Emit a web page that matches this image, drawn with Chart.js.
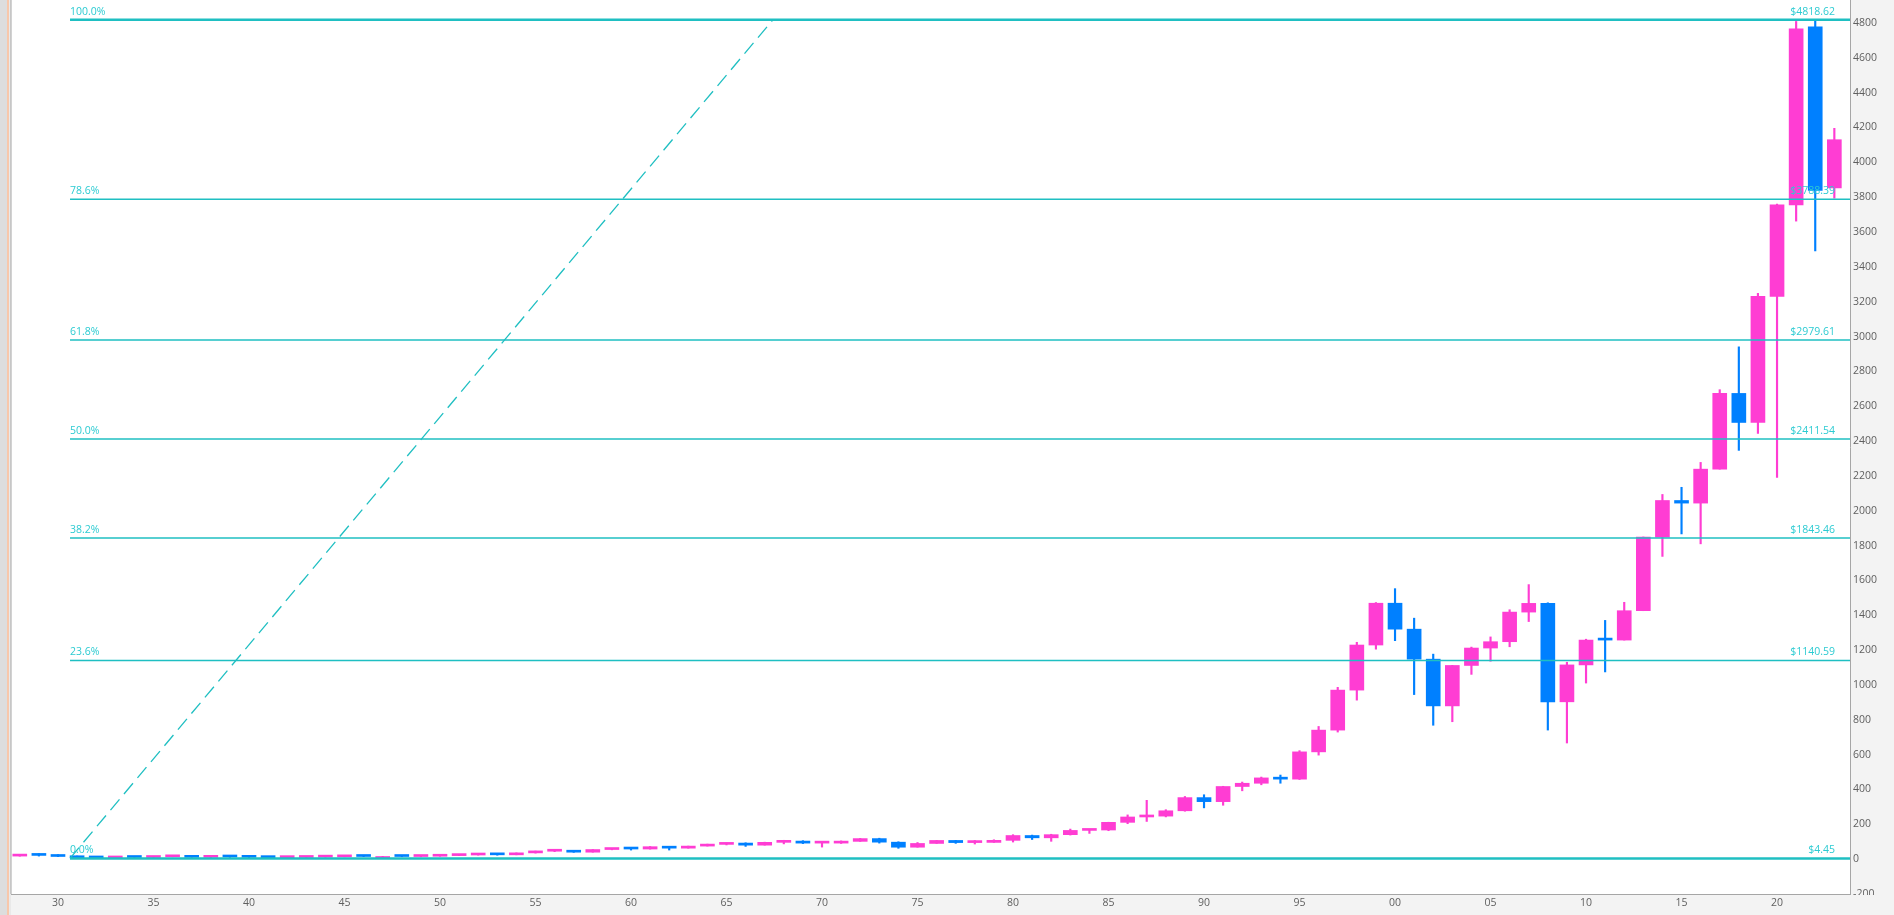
<!DOCTYPE html>
<html lang="en">
<head>
    <meta charset="UTF-8">
    <title>S&amp;P 500 Yearly Candles - Fibonacci Retracement</title>
    <script src="https://cdnjs.cloudflare.com/ajax/libs/chart.js/4.4.1/chart.umd.min.js"></script>
    <style>
        html, body {
            margin: 0;
            padding: 0;
            background: #f3f3f3;
            overflow: hidden;
        }

        .chart-wrap {
            position: relative;
            width: 1894px;
            height: 915px;
        }
    </style>
</head>
<body>
    <div class="chart-wrap">
        <canvas id="candleChart"></canvas>
    </div>

    <script>
        // Yearly candles, 1928 - 2023
        const years = [
            1928, 1929, 1930, 1931, 1932, 1933, 1934, 1935, 1936, 1937, 1938, 1939,
            1940, 1941, 1942, 1943, 1944, 1945, 1946, 1947, 1948, 1949,
            1950, 1951, 1952, 1953, 1954, 1955, 1956, 1957, 1958, 1959,
            1960, 1961, 1962, 1963, 1964, 1965, 1966, 1967, 1968, 1969,
            1970, 1971, 1972, 1973, 1974, 1975, 1976, 1977, 1978, 1979,
            1980, 1981, 1982, 1983, 1984, 1985, 1986, 1987, 1988, 1989,
            1990, 1991, 1992, 1993, 1994, 1995, 1996, 1997, 1998, 1999,
            2000, 2001, 2002, 2003, 2004, 2005, 2006, 2007, 2008, 2009,
            2010, 2011, 2012, 2013, 2014, 2015, 2016, 2017, 2018, 2019,
            2020, 2021, 2022, 2023
        ];

        const opens = [
            17.66, 24.35, 21.45, 15.34, 8.12, 6.89, 10.10, 9.50, 13.43, 17.18, 10.55, 13.21,
            12.49, 10.58, 8.69, 9.77, 11.67, 13.28, 17.36, 15.30, 15.30, 15.20,
            16.76, 20.41, 23.77, 26.57, 24.81, 35.98, 45.48, 46.67, 39.99, 55.21,
            59.89, 58.11, 71.55, 63.10, 75.02, 84.75, 92.43, 80.33, 96.47, 103.86,
            92.06, 92.15, 102.09, 118.05, 97.55, 68.56, 90.19, 107.46, 95.10, 96.11,
            107.94, 135.76, 122.55, 140.64, 164.93, 167.24, 211.28, 242.17, 247.08, 277.72,
            353.40, 330.22, 417.09, 435.71, 466.45, 459.27, 615.93, 740.74, 970.43, 1229.23,
            1469.25, 1320.28, 1148.08, 879.82, 1111.92, 1211.92, 1248.29, 1418.30, 1468.36, 903.25,
            1115.10, 1257.62, 1257.60, 1426.19, 1848.36, 2058.90, 2043.94, 2238.83, 2673.61, 2506.85,
            3230.78, 3756.07, 4778.14, 3853.29
        ];

        const highs = [
            24.35, 31.86, 25.92, 18.17, 9.31, 12.20, 11.82, 13.46, 17.69, 18.68, 13.79, 13.23,
            12.77, 10.86, 9.77, 12.64, 13.29, 17.68, 19.25, 16.20, 17.06, 16.79,
            20.43, 23.85, 26.59, 26.66, 35.98, 46.41, 49.74, 49.13, 55.21, 60.71,
            60.39, 72.64, 71.55, 75.02, 86.28, 92.63, 94.06, 97.59, 108.37, 106.16,
            93.46, 104.77, 119.12, 120.24, 99.80, 95.61, 107.83, 107.97, 106.99, 111.27,
            140.52, 138.12, 143.02, 172.65, 170.41, 212.02, 254.00, 337.89, 283.95, 359.80,
            369.78, 418.32, 442.65, 471.29, 482.85, 622.88, 761.75, 986.25, 1244.93, 1473.10,
            1552.87, 1383.37, 1176.97, 1112.56, 1217.33, 1275.80, 1431.81, 1576.09, 1471.77, 1130.38,
            1262.60, 1370.58, 1474.51, 1849.44, 2093.55, 2134.72, 2277.53, 2694.97, 2940.91, 3247.93,
            3760.20, 4808.93, 4818.62, 4195.44
        ];

        const lows = [
            16.95, 17.66, 14.44, 7.72, 4.45, 5.53, 8.36, 8.06, 13.40, 10.17, 8.50, 10.18,
            8.99, 8.37, 7.47, 9.77, 11.56, 13.21, 14.12, 13.71, 13.84, 13.55,
            16.65, 20.41, 23.09, 22.71, 24.80, 34.58, 43.11, 38.98, 39.99, 53.58,
            52.20, 57.57, 52.32, 62.69, 75.02, 81.60, 73.20, 80.33, 87.72, 89.20,
            69.29, 90.16, 101.67, 92.16, 62.28, 68.56, 90.19, 90.71, 86.90, 96.11,
            98.22, 112.77, 102.42, 138.34, 147.82, 163.36, 203.49, 216.46, 242.63, 275.31,
            294.51, 309.35, 392.41, 426.88, 435.86, 457.20, 597.29, 729.55, 912.83, 1205.46,
            1254.07, 944.75, 768.63, 788.90, 1060.72, 1136.15, 1219.29, 1363.98, 741.02, 666.79,
            1010.91, 1074.77, 1257.60, 1426.19, 1737.92, 1867.01, 1810.10, 2238.83, 2346.58, 2443.96,
            2191.86, 3662.71, 3491.58, 3794.33
        ];

        const closes = [
            24.35, 21.45, 15.34, 8.12, 6.89, 10.10, 9.50, 13.43, 17.18, 10.55, 13.21, 12.49,
            10.58, 8.69, 9.77, 11.67, 13.28, 17.36, 15.30, 15.30, 15.20, 16.76,
            20.41, 23.77, 26.57, 24.81, 35.98, 45.48, 46.67, 39.99, 55.21, 59.89,
            58.11, 71.55, 63.10, 75.02, 84.75, 92.43, 80.33, 96.47, 103.86, 92.06,
            92.15, 102.09, 118.05, 97.55, 68.56, 90.19, 107.46, 95.10, 96.11, 107.94,
            135.76, 122.55, 140.64, 164.93, 167.24, 211.28, 242.17, 247.08, 277.72, 353.40,
            330.22, 417.09, 435.71, 466.45, 459.27, 615.93, 740.74, 970.43, 1229.23, 1469.25,
            1320.28, 1148.08, 879.82, 1111.92, 1211.92, 1248.29, 1418.30, 1468.36, 903.25, 1115.10,
            1257.64, 1257.60, 1426.19, 1848.36, 2058.90, 2043.94, 2238.83, 2673.61, 2506.85, 3230.78,
            3756.07, 4766.18, 3839.50, 4130.00
        ];

        // Fibonacci retracement levels
        const fibLabels = ['0.0%', '23.6%', '38.2%', '50.0%', '61.8%', '78.6%', '100.0%'];
        const fibPrices = [4.45, 1140.59, 1843.46, 2411.54, 2979.61, 3788.39, 4818.62];
        const fibStart = 1930.63;

        // diagonal trend line of the tool
        const trendX = [1930.63, 1967.43];
        const trendY = [4.45, 4818.62];

        // tick labels
        const xTicks = [1930, 1935, 1940, 1945, 1950, 1955, 1960, 1965, 1970, 1975, 1980, 1985,
            1990, 1995, 2000, 2005, 2010, 2015, 2020];
        const yTicks = [-200, 0, 200, 400, 600, 800, 1000, 1200, 1400, 1600, 1800, 2000, 2200,
            2400, 2600, 2800, 3000, 3200, 3400, 3600, 3800, 4000, 4200, 4400, 4600, 4800];

        const UP = '#ff3dd3';
        const DOWN = '#0080ff';
        const FIB = '#1fbfc2';
        const FIB_TEXT = '#2ccbd2';
        const AXIS_BG = '#f3f3f3';

        const candleColors = years.map((y, i) => closes[i] >= opens[i] ? UP : DOWN);

        // axis backgrounds, left strip, clipping of the lowest price label
        const framePlugin = {
            id: 'frame',
            beforeDraw(chart) {
                const { ctx, chartArea: a, width, height } = chart;
                ctx.save();
                ctx.fillStyle = AXIS_BG;
                ctx.fillRect(0, 0, width, height);
                ctx.fillStyle = '#ffffff';
                ctx.fillRect(a.left, a.top, a.right - a.left, a.bottom - a.top);
                ctx.fillStyle = '#dddddd';
                ctx.fillRect(0, 0, 7, height);
                ctx.fillStyle = '#f8c7aa';
                ctx.fillRect(7, 0, 2, height);
                ctx.fillStyle = '#e9e9e9';
                ctx.fillRect(9, 0, 2, height);
                ctx.fillStyle = '#a6a6a6';
                ctx.fillRect(a.left - 0.5, a.top, 1, a.bottom - a.top);
                ctx.restore();
            },
            afterDraw(chart) {
                const { ctx, chartArea: a, width, height } = chart;
                ctx.save();
                ctx.fillStyle = AXIS_BG;
                ctx.fillRect(a.right + 1, a.bottom + 1, width - a.right, height - a.bottom);
                ctx.restore();
            }
        };

        // text labels of the retracement levels
        const fibLabelPlugin = {
            id: 'fibLabels',
            afterDatasetsDraw(chart) {
                const { ctx, chartArea: a, scales } = chart;
                ctx.save();
                ctx.font = "10.5px 'Open Sans', 'Noto Sans', sans-serif";
                ctx.fillStyle = FIB_TEXT;
                ctx.textBaseline = 'alphabetic';
                fibPrices.forEach((p, i) => {
                    const y = scales.y.getPixelForValue(p) - 5;
                    ctx.textAlign = 'left';
                    ctx.fillText(fibLabels[i], scales.x.getPixelForValue(fibStart), y);
                    ctx.textAlign = 'right';
                    ctx.fillText('$' + p.toFixed(2), a.right - 15, y);
                });
                ctx.restore();
            }
        };

        const fibDatasets = fibPrices.map((p, i) => ({
            type: 'line',
            data: [{ x: fibStart, y: p }, { x: 2030, y: p }],
            borderColor: FIB,
            borderWidth: (i === 0 || i === fibPrices.length - 1) ? 2.5 : 1.5,
            pointRadius: 0,
            order: 0
        }));

        const ctx = document.getElementById('candleChart').getContext('2d');
        new Chart(ctx, {
            type: 'bar',
            data: {
                datasets: [
                    ...fibDatasets,
                    {
                        type: 'line',
                        data: trendX.map((x, i) => ({ x: x, y: trendY[i] })),
                        borderColor: FIB,
                        borderWidth: 1.3,
                        borderDash: [14, 7],
                        pointRadius: 0,
                        order: 0
                    },
                    {
                        // candle bodies
                        data: years.map((y, i) => ({ x: y, y: [opens[i], closes[i]] })),
                        backgroundColor: candleColors,
                        borderWidth: 0,
                        barThickness: 14,
                        minBarLength: 2,
                        grouped: false,
                        order: 1
                    },
                    {
                        // wicks
                        data: years.map((y, i) => ({ x: y, y: [lows[i], highs[i]] })),
                        backgroundColor: candleColors,
                        borderWidth: 0,
                        barThickness: 1.5,
                        grouped: false,
                        order: 2
                    }
                ]
            },
            options: {
                responsive: true,
                maintainAspectRatio: false,
                animation: false,
                events: [],
                layout: {
                    padding: { left: 11, top: 0, right: 0, bottom: 0 }
                },
                plugins: {
                    legend: { display: false },
                    tooltip: { enabled: false }
                },
                scales: {
                    x: {
                        type: 'linear',
                        offset: false,
                        min: 1927.54,
                        max: 2023.82,
                        grid: { display: false, drawTicks: false },
                        border: { display: true, color: '#a6a6a6', width: 1 },
                        afterBuildTicks: (scale) => {
                            scale.ticks = xTicks.map(v => ({ value: v }));
                        },
                        afterFit: (scale) => {
                            scale.height = 21;
                            scale.paddingLeft = 0;
                            scale.paddingRight = 0;
                        },
                        ticks: {
                            color: '#5f5f5f',
                            padding: 3,
                            maxRotation: 0,
                            autoSkip: false,
                            font: { family: "'Open Sans', 'Noto Sans', sans-serif", size: 10.5 },
                            callback: (v) => String(v % 100).padStart(2, '0')
                        }
                    },
                    y: {
                        position: 'right',
                        min: -200,
                        max: 4932,
                        grid: { display: false, drawTicks: false },
                        border: { display: true, color: '#a6a6a6', width: 1 },
                        afterBuildTicks: (scale) => {
                            scale.ticks = yTicks.map(v => ({ value: v }));
                        },
                        afterFit: (scale) => {
                            scale.width = 44;
                            scale.paddingTop = 0;
                            scale.paddingBottom = 0;
                        },
                        ticks: {
                            color: '#5f5f5f',
                            padding: 3,
                            autoSkip: false,
                            font: { family: "'Open Sans', 'Noto Sans', sans-serif", size: 10.5 },
                            callback: (v) => String(v)
                        }
                    }
                }
            },
            plugins: [framePlugin, fibLabelPlugin]
        });
    </script>
</body>
</html>
